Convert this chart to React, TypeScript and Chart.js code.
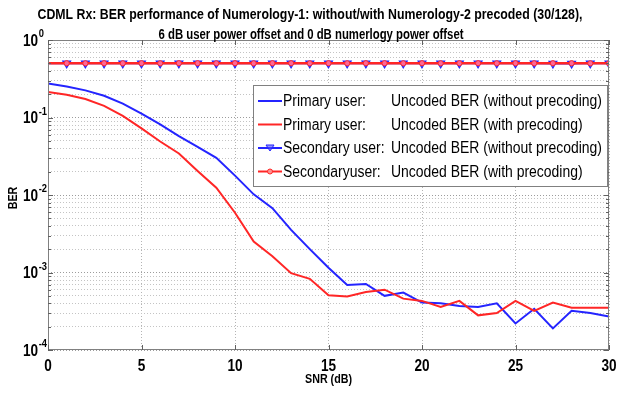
import React, { useEffect, useRef } from 'react';
import { Chart, registerables } from 'chart.js';

Chart.register(...registerables);

const snr = [0, 1, 2, 3, 4, 5, 6, 7, 8, 9, 10, 11, 12, 13, 14, 15, 16, 17, 18, 19, 20, 21, 22, 23, 24, 25, 26, 27, 28, 29, 30];
const primaryWithout = [0.275, 0.251, 0.224, 0.191, 0.151, 0.112, 0.0813, 0.0575, 0.0417, 0.0302, 0.0178, 0.0102, 0.00676, 0.00355, 0.0020, 0.00115, 0.00069, 0.00071, 0.0005, 0.00055, 0.00041, 0.0004, 0.00037, 0.00036, 0.0004, 0.00022, 0.00034, 0.00019, 0.00032, 0.0003, 0.00027];
const primaryWith = [0.214, 0.196, 0.173, 0.141, 0.105, 0.0724, 0.049, 0.0343, 0.0204, 0.0124, 0.0059, 0.0025, 0.00162, 0.00098, 0.00083, 0.00051, 0.00049, 0.00056, 0.0006, 0.00046, 0.00043, 0.00036, 0.00043, 0.00028, 0.0003, 0.00043, 0.00032, 0.00041, 0.00035, 0.00035, 0.00035];
const secondaryWithout = [0.5, 0.5, 0.5, 0.5, 0.5, 0.5, 0.5, 0.5, 0.5, 0.5, 0.5, 0.5, 0.5, 0.5, 0.5, 0.5, 0.5, 0.5, 0.5, 0.5, 0.5, 0.5, 0.5, 0.5, 0.5, 0.5, 0.5, 0.497, 0.497, 0.5, 0.5];
const secondaryWith = [0.502, 0.502, 0.501, 0.502, 0.501, 0.502, 0.501, 0.502, 0.502, 0.501, 0.502, 0.501, 0.502, 0.502, 0.501, 0.502, 0.501, 0.502, 0.502, 0.501, 0.502, 0.501, 0.502, 0.502, 0.501, 0.502, 0.501, 0.502, 0.502, 0.501, 0.502];

const xTickValues = [0, 5, 10, 15, 20, 25, 30];
const xTickLabels = ['0', '5', '10', '15', '20', '25', '30'];
const decadeExponents = [0, -1, -2, -3, -4];
const mantissas = [1, 2, 3, 4, 5, 6, 7, 8, 9];

const titleLines = [
  'CDML Rx: BER performance of Numerology-1: without/with Numerology-2 precoded (30/128),',
  '6 dB user power offset and 0 dB numerlogy power offset',
];
const xTitle = 'SNR (dB)';
const yTitle = 'BER';
const userLabels = ['Primary user:', 'Primary user:', 'Secondary user:', 'Secondaryuser:'];
const berLabels = [
  'Uncoded BER (without precoding)',
  'Uncoded BER (with precoding)',
  'Uncoded BER (without precoding)',
  'Uncoded BER (with precoding)',
];

const BLUE = '#2424ff';
const RED = '#ff2626';
const FONT = '"Liberation Sans", Arial, sans-serif';

function drawText(
  ctx: CanvasRenderingContext2D,
  text: string,
  x: number,
  y: number,
  font: string,
  align: CanvasTextAlign,
  sx: number,
  baseline: CanvasTextBaseline = 'middle'
) {
  ctx.save();
  ctx.font = font;
  ctx.textAlign = align;
  ctx.textBaseline = baseline;
  ctx.translate(x, y);
  ctx.scale(sx, 1);
  ctx.fillText(text, 0, 0);
  ctx.restore();
}

function fitScale(ctx: CanvasRenderingContext2D, text: string, font: string, target: number) {
  ctx.save();
  ctx.font = font;
  const w = ctx.measureText(text).width;
  ctx.restore();
  return w > 0 ? target / w : 1;
}

const decorPlugin = {
  id: 'decor',
  afterDraw(chart: any) {
    const ctx = chart.ctx as CanvasRenderingContext2D;
    const a = chart.chartArea;
    const ys = chart.scales.y;
    const xs = chart.scales.x;
    ctx.save();
    // frame
    ctx.strokeStyle = '#808080';
    ctx.lineWidth = 1;
    ctx.setLineDash([]);
    ctx.strokeRect(a.left + 0.5, a.top + 0.5, a.right - a.left - 1, a.bottom - a.top - 1);
    // inward ticks
    ctx.strokeStyle = '#606060';
    ctx.beginPath();
    ys.ticks.forEach((t: any) => {
      const py = Math.round(ys.getPixelForValue(t.value)) + 0.5;
      const l = Math.log10(t.value);
      const len = Math.abs(l - Math.round(l)) < 1e-9 ? 5 : 3;
      ctx.moveTo(a.left, py); ctx.lineTo(a.left + len, py);
      ctx.moveTo(a.right, py); ctx.lineTo(a.right - len, py);
    });
    xTickValues.forEach((v) => {
      const px = Math.round(xs.getPixelForValue(v)) + 0.5;
      ctx.moveTo(px, a.bottom); ctx.lineTo(px, a.bottom - 5);
      ctx.moveTo(px, a.top); ctx.lineTo(px, a.top + 5);
    });
    ctx.stroke();

    ctx.fillStyle = '#000';
    const tickFont = `bold 17px ${FONT}`;
    const tickSx = 0.8;
    // x tick labels
    xTickValues.forEach((v, i) => {
      drawText(ctx, xTickLabels[i], xs.getPixelForValue(v), 366, tickFont, 'center', tickSx);
    });
    // y tick labels 10^k
    decadeExponents.forEach((e) => {
      const py = ys.getPixelForValue(Math.pow(10, e));
      drawText(ctx, '10', 23, py + 1, tickFont, 'left', tickSx);
      ctx.font = tickFont;
      const w = ctx.measureText('10').width * tickSx;
      drawText(ctx, e === 0 ? '0' : '-' + Math.abs(e), 23 + w + 0.5, py - 3, `bold 11px ${FONT}`, 'left', 0.85, 'alphabetic');
    });

    // titles
    const titleFont = `bold 14px ${FONT}`;
    const tSx = fitScale(ctx, titleLines[0], titleFont, 545);
    const tSx2 = fitScale(ctx, titleLines[1], titleFont, 305);
    drawText(ctx, titleLines[0], 310, 15, titleFont, 'center', tSx);
    drawText(ctx, titleLines[1], 311, 35, titleFont, 'center', tSx2);
    const axFont = `bold 13px ${FONT}`;
    const aSx = fitScale(ctx, xTitle, axFont, 47);
    drawText(ctx, xTitle, (a.left + a.right) / 2, 379, axFont, 'center', aSx);
    ctx.save();
    ctx.translate(13, (a.top + a.bottom) / 2 + 3);
    ctx.rotate(-Math.PI / 2);
    drawText(ctx, yTitle, 0, 0, axFont, 'center', aSx);
    ctx.restore();

    // legend
    const lx = 253, ly = 85, lw = 354, lh = 101;
    ctx.fillStyle = '#fff';
    ctx.fillRect(lx, ly, lw, lh);
    ctx.strokeStyle = '#808080';
    ctx.lineWidth = 1;
    ctx.strokeRect(lx + 0.5, ly + 0.5, lw, lh);
    const legFont = `16px ${FONT}`;
    const lSx = fitScale(ctx, berLabels[0], legFont, 211);
    [0, 1, 2, 3].forEach((i) => {
      const ds = chart.data.datasets[i];
      const rowY = 101 + i * 23.5;
      ctx.strokeStyle = ds.borderColor;
      ctx.lineWidth = 2;
      ctx.beginPath();
      ctx.moveTo(258, rowY);
      ctx.lineTo(282, rowY);
      ctx.stroke();
      if (i === 2) {
        ctx.lineWidth = 1;
        ctx.fillStyle = 'rgba(80,80,255,0.6)';
        ctx.beginPath();
        ctx.moveTo(266, rowY - 3);
        ctx.lineTo(274, rowY - 3);
        ctx.lineTo(270, rowY + 3);
        ctx.closePath();
        ctx.fill();
        ctx.stroke();
      } else if (i === 3) {
        ctx.lineWidth = 1;
        ctx.fillStyle = 'rgba(255,150,150,0.9)';
        ctx.beginPath();
        ctx.arc(270, rowY, 2.5, 0, Math.PI * 2);
        ctx.fill();
        ctx.stroke();
      }
      ctx.fillStyle = '#000';
      drawText(ctx, userLabels[i], 283, rowY + 1, legFont, 'left', lSx);
      drawText(ctx, berLabels[i], 391, rowY + 1, legFont, 'left', lSx);
    });
    ctx.restore();
  },
};

export default function App() {
  const canvasRef = useRef<HTMLCanvasElement | null>(null);

  useEffect(() => {
    if (!canvasRef.current) return;
    const markerRadius = snr.map((_, i) => (i === 0 ? 0 : 4.5));
    const circleRadius = snr.map((_, i) => (i === 0 ? 0 : 2.6));
    const chart = new Chart(canvasRef.current, {
      type: 'line',
      data: {
        datasets: [
          {
            label: userLabels[0] + ' ' + berLabels[0],
            data: snr.map((x, i) => ({ x, y: primaryWithout[i] })),
            borderColor: BLUE,
            borderWidth: 2,
            pointRadius: 0,
            order: 4,
          },
          {
            label: userLabels[1] + ' ' + berLabels[1],
            data: snr.map((x, i) => ({ x, y: primaryWith[i] })),
            borderColor: RED,
            borderWidth: 2,
            pointRadius: 0,
            order: 3,
          },
          {
            label: userLabels[2] + ' ' + berLabels[2],
            data: snr.map((x, i) => ({ x, y: secondaryWithout[i] })),
            borderColor: BLUE,
            borderWidth: 2,
            pointStyle: 'triangle',
            rotation: 180,
            pointRadius: markerRadius,
            pointBorderWidth: 1.2,
            pointBorderColor: BLUE,
            pointBackgroundColor: 'rgba(90,90,255,0.7)',
            order: 2,
          },
          {
            label: userLabels[3] + ' ' + berLabels[3],
            data: snr.map((x, i) => ({ x, y: secondaryWith[i] })),
            borderColor: RED,
            borderWidth: 2.5,
            pointStyle: 'circle',
            pointRadius: circleRadius,
            pointBorderWidth: 1,
            pointBorderColor: RED,
            pointBackgroundColor: 'rgba(255,110,160,0.9)',
            order: 1,
          },
        ],
      },
      options: {
        responsive: false,
        animation: false,
        events: [],
        layout: { padding: { top: 40, right: 8, left: 0, bottom: 0 } },
        plugins: {
          legend: { display: false },
          title: { display: false },
          tooltip: { enabled: false },
        },
        scales: {
          x: {
            type: 'linear',
            min: 0,
            max: 30,
            afterBuildTicks: (scale: any) => {
              scale.ticks = xTickValues.map((v) => ({ value: v }));
            },
            afterFit: (scale: any) => {
              scale.height = 44;
              scale.paddingLeft = 0;
              scale.paddingRight = 0;
            },
            ticks: { display: false, autoSkip: false },
            grid: {
              color: '#b4b4b4',
              lineWidth: 1,
              drawTicks: false,
            },
            border: { display: false, dash: [1, 2] },
          },
          y: {
            type: 'logarithmic',
            min: 1e-4,
            max: 1,
            afterBuildTicks: (scale: any) => {
              const t: any[] = [];
              decadeExponents.forEach((e) => {
                mantissas.forEach((m) => {
                  const v = m * Math.pow(10, e);
                  if (v <= 1 + 1e-12) t.push({ value: v });
                });
              });
              scale.ticks = t;
            },
            afterFit: (scale: any) => {
              scale.width = 48;
              scale.paddingTop = 0;
              scale.paddingBottom = 0;
            },
            ticks: { display: false, autoSkip: false },
            grid: {
              color: (c: any) => {
                const v = c.tick ? c.tick.value : 0;
                const l = Math.log10(v);
                return Math.abs(l - Math.round(l)) < 1e-9 ? '#9c9c9c' : '#c4c4c4';
              },
              lineWidth: 1,
              drawTicks: false,
            },
            border: { display: false, dash: [1, 2] },
          },
        },
      },
      plugins: [decorPlugin],
    } as any);
    return () => chart.destroy();
  }, []);

  return (
    <div style={{ position: 'absolute', left: 0, top: 0, width: 617, height: 394, background: '#fff' }}>
      <canvas ref={canvasRef} width={617} height={394} style={{ display: 'block' }} />
    </div>
  );
}
